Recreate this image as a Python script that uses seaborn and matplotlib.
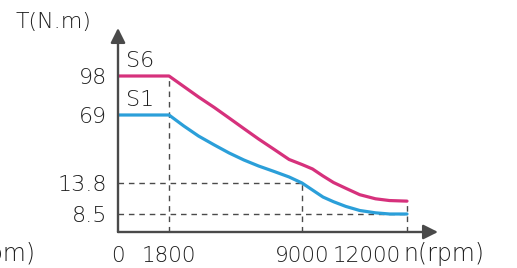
import numpy as np
import pandas as pd
import matplotlib
matplotlib.use("Agg")
import matplotlib.pyplot as plt
import matplotlib.transforms as mtransforms
import seaborn as sns

speed = [0, 1800, 2600, 3400, 4250, 5050, 5850, 6650, 7500, 8300, 9000,
         9300, 9600, 9900, 10250, 10650, 11100, 11500, 12000]
torque_s6 = [98, 98, 90.2, 82.4, 74.6, 66.6, 58.0, 49.5, 41.0, 32.9, 28.8,
             25.2, 19.5, 14.2, 12.9, 11.8, 11.1, 10.8, 10.7]
torque_s1 = [69, 69, 60.1, 51.9, 44.7, 38.2, 32.5, 27.6, 23.1, 18.7, 13.8,
             12.6, 11.4, 10.6, 9.8, 9.1, 8.7, 8.5, 8.5]

x_ticks = [0, 1800, 9000, 12000]
x_labels = ["0", "1800", "9000", "12000"]
y_ticks = [8.5, 13.8, 69, 98]
y_labels = ["8.5", "13.8", "69", "98"]

# schematic (non-linear) axes: value -> drawing position
x_vals = [0, 1800, 9000, 12000, 12930]
x_pos = [0, 51, 184, 289, 320]
y_vals = [0, 8.5, 13.8, 69, 98, 133.5]
y_pos = [0, 18, 49, 117, 156, 204]

PINK = "#d6317c"
BLUE = "#2b9fd9"
GREY = "#4a4a4a"
TXT = "#1e1e1e"

sns.set_style("white")
plt.rcParams["font.family"] = ["DejaVu Sans"]
plt.rcParams["font.weight"] = "light"

df = pd.concat([
    pd.DataFrame({"speed": speed, "torque": torque_s6, "mode": "S6"}),
    pd.DataFrame({"speed": speed, "torque": torque_s1, "mode": "S1"}),
])

fig = plt.figure(figsize=(5.17, 2.68), dpi=100)
ax = fig.add_axes([118 / 517, 36 / 268, 320 / 517, 204 / 268])

sns.lineplot(data=df, x="speed", y="torque", hue="mode", palette={"S6": PINK, "S1": BLUE},
             sort=False, estimator=None, linewidth=2.3, legend=False, ax=ax)

ax.set_xscale("function", functions=(lambda v: np.interp(v, x_vals, x_pos),
                                     lambda p: np.interp(p, x_pos, x_vals)))
ax.set_yscale("function", functions=(lambda v: np.interp(v, y_vals, y_pos),
                                     lambda p: np.interp(p, y_pos, y_vals)))
ax.set_xlim(0, x_vals[-1])
ax.set_ylim(0, y_vals[-1])

# guide lines
dash = dict(color=GREY, lw=1.0, ls=(0, (4, 3.5)), zorder=1)
ax.plot([1800, 1800], [0, torque_s6[1]], **dash)
ax.plot([9000, 9000], [0, 13.8], **dash)
ax.plot([12000, 12000], [0, torque_s6[-1]], **dash)
ax.plot([0, 9000], [13.8, 13.8], **dash)
ax.plot([0, 12000], [8.5, 8.5], **dash)

# axes with arrow heads
for s in ax.spines.values():
    s.set_visible(False)
arrow = dict(arrowstyle="-|>", color=GREY, lw=1.7, mutation_scale=22, shrinkA=0, shrinkB=0)
ax.annotate("", xy=(1, 0), xytext=(0, 0), xycoords="axes fraction", arrowprops=arrow)
ax.annotate("", xy=(0, 1), xytext=(0, 0), xycoords="axes fraction", arrowprops=arrow)

ax.set_xticks(x_ticks)
ax.set_xticklabels(x_labels)
ax.set_yticks(y_ticks)
ax.set_yticklabels(y_labels)
ax.tick_params(axis="both", length=0, labelsize=16, labelcolor=TXT)
ax.tick_params(axis="x", pad=10, labelsize=15.5)
ax.tick_params(axis="y", pad=8)
ax.set_xlabel("")
ax.set_ylabel("")
last = ax.get_xticklabels()[-1]
last.set_horizontalalignment("right")
last.set_transform(last.get_transform() + mtransforms.ScaledTranslation(-6 / 100, 0, fig.dpi_scale_trans))

ax.annotate("S6", xy=(0, 98), xytext=(6, 3.5), textcoords="offset points",
            fontsize=16, color=TXT, va="bottom")
ax.annotate("S1", xy=(0, 69), xytext=(6, 3.5), textcoords="offset points",
            fontsize=16, color=TXT, va="bottom")

fig.text(15 / 517, 1 - 28 / 268, "T(N.m)", fontsize=16, color=TXT, va="baseline")
fig.text(403 / 517, 1 - 261 / 268, "n(rpm)", fontsize=17, color=TXT, va="baseline")
fig.text(35 / 517, 1 - 261 / 268, "n(rpm)", fontsize=17, color=TXT, va="baseline", ha="right")

fig.savefig("out.png", dpi=100)
